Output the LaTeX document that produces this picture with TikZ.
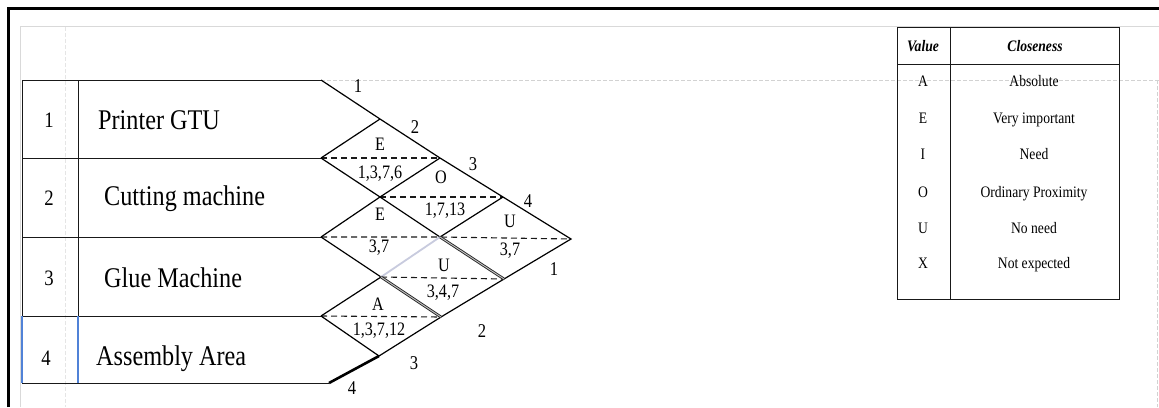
\documentclass[tikz,border=0pt]{standalone}
\usepackage{fontspec}
\setmainfont[FakeStretch=0.85]{Liberation Serif}
\newcommand\myfs[1]{\fontsize{#1}{#1}\selectfont}
\begin{document}
\begin{tikzpicture}[x=1pt,y=-1pt,
  tline/.style={draw=black!90, line width=1pt},
  dline/.style={draw=black, line width=1.2pt},
  dashln/.style={draw=black!90, line width=1.1pt, dash pattern=on 6pt off 4pt},
  dblln/.style={draw=black!85, line width=0.9pt, double=gray!45, double distance=0.9pt},
  faint/.style={draw=gray!35, line width=0.6pt, dash pattern=on 4pt off 2pt},
  rownum/.style={anchor=base, inner sep=0pt, font=\myfs{22}},
  rowname/.style={anchor=base west, inner sep=0pt, font=\myfs{28.5}},
  dlab/.style={anchor=base, inner sep=0pt, font=\myfs{19}},
  olab/.style={anchor=base, inner sep=0pt, font=\myfs{19.5}},
  leg/.style={anchor=base, inner sep=0pt, font=\myfs{16}},
  leghead/.style={anchor=base, inner sep=0pt, font=\myfs{16}\bfseries\itshape}]
\useasboundingbox (0,0) rectangle (1159,407);
\fill[white] (0,0) rectangle (1159,407);
% frame and page
\coordinate (fa) at (8.5,407); \coordinate (fb) at (8.5,8.5); \coordinate (fc) at (1159,8.5);
\draw[black, line width=3pt] (fa) -- (fb) -- (fc);
\coordinate (pa) at (20.5,407); \coordinate (pb) at (20.5,26.5); \coordinate (pc) at (1159,26.5);
\draw[gray!30, line width=1.2pt] (pa) -- (pb) -- (pc);
\coordinate (ga) at (65,27); \coordinate (gb) at (65,407);
\draw[faint, draw=gray!20] (ga) -- (gb);
\coordinate (gc) at (1159,80); \coordinate (gd) at (1157.5,80); \coordinate (ge) at (1157.5,407);
\coordinate (P1) at (321,80);
\draw[faint] (P1) -- (gc);
\draw[faint] (gd) -- (ge);
% grid points
\coordinate (L12) at (321,158);
\coordinate (L23) at (321,237);
\coordinate (L34) at (321,316);
\coordinate (T1) at (380,119);
\coordinate (R12) at (440,158);
\coordinate (B12) at (380,197);
\coordinate (T4) at (503,197);
\coordinate (B13) at (440,237);
\coordinate (M) at (381,277);
\coordinate (R14) at (571,239);
\coordinate (B14) at (504,279);
\coordinate (B24) at (441,317);
\coordinate (B34) at (379,356);
\coordinate (E4) at (329,383);
% left table
\coordinate (a0) at (22,80);  \coordinate (a1) at (22,158); \coordinate (a2) at (22,237);
\coordinate (a3) at (22,316); \coordinate (a4) at (22,383);
\coordinate (c0) at (78,80);  \coordinate (c3) at (78,316); \coordinate (c4) at (78,383);
\draw[tline] (a0) -- (P1);
\draw[tline] (a1) -- (L12);
\draw[tline] (a2) -- (L23);
\draw[tline] (a3) -- (L34);
\draw[tline] (a4) -- (E4);
\draw[tline] (a0) -- (a3);
\draw[tline] (c0) -- (c3);
\draw[line width=1.3pt, draw={rgb,255:red,80;green,130;blue,215}] (a3) -- (a4);
\draw[line width=1.3pt, draw={rgb,255:red,80;green,130;blue,215}] (c3) -- (c4);
\node[rownum] (n1) at (49,127) {1};
\node[rownum] (n2) at (49,205) {2};
\node[rownum] (n3) at (49,285) {3};
\node[rownum] (n4) at (46,365) {4};
\node[rowname] (m1) at (98,129.5) {Printer GTU};
\node[rowname] (m2) at (104,205) {Cutting machine};
\node[rowname] (m3) at (104,287) {Glue Machine};
\node[rowname] (m4) at (96,365) {Assembly Area};
% dashed middles
\draw[dashln] (L12) -- (R12);
\draw[dashln] (B12) -- (T4);
\draw[dashln] (L23) -- (B13) -- (R14);
\draw[dashln] (M) -- (B14);
\draw[dashln] (L34) -- (B24);
% solid edges
\draw[dline] (P1) -- (T1) -- (R12) -- (T4);
\draw[dline] (L12) -- (B12) -- (B13);
\draw[dline] (L23) -- (M);
\draw[dline] (L34) -- (B34);
\draw[dline] (L12) -- (T1);
\draw[dline] (L23) -- (B12) -- (R12);
\draw[dline] (L34) -- (M);
\draw[draw={rgb,255:red,200;green,203;blue,222}, line width=1.8pt] (M) -- (B13);
\draw[dline] (B13) -- (T4);
\draw[dline] (B34) -- (B24) -- (B14) -- (R14) -- (T4);
\draw[dblln] (B13) -- (B14);
\draw[dblln] (M) -- (B24);
\draw[black, line width=2.6pt] (E4) -- (B34);
% diamond labels
\node[dlab] (d1) at (380,150) {E};
\node[dlab] (d1v) at (380,178) {1,3,7,6};
\node[dlab] (d2) at (441,183) {O};
\node[dlab] (d2v) at (445,215) {1,7,13};
\node[dlab] (d3) at (380,220) {E};
\node[dlab] (d3v) at (379,252) {3,7};
\node[dlab] (d4) at (510,227) {U};
\node[dlab] (d4v) at (510,255) {3,7};
\node[dlab] (d5) at (444,271) {U};
\node[dlab] (d5v) at (443,297) {3,4,7};
\node[dlab] (d6) at (378,310) {A};
\node[dlab] (d6v) at (379,335) {1,3,7,12};
% outer labels
\node[olab] (o1) at (358,92) {1};
\node[olab] (o2) at (415,133) {2};
\node[olab] (o3) at (473,170) {3};
\node[olab] (o4) at (528,207) {4};
\node[olab] (o5) at (554,275) {1};
\node[olab] (o6) at (482,337) {2};
\node[olab] (o7) at (414,369) {3};
\node[olab] (o8) at (352,394) {4};
% legend
\coordinate (g0) at (897,27); \coordinate (g1) at (1119,299);
\coordinate (h0) at (897,64); \coordinate (h1) at (1119,64);
\coordinate (v0) at (950,27); \coordinate (v1) at (950,299);
\draw[tline] (g0) rectangle (g1);
\draw[tline] (h0) -- (h1);
\draw[tline] (v0) -- (v1);
\node[leghead] (lh1) at (923,51) {Value};
\node[leghead] (lh2) at (1035,51) {Closeness};
\node[leg] (la) at (923,86) {A};  \node[leg] (lat) at (1034,86) {Absolute};
\node[leg] (le) at (923,123) {E}; \node[leg] (let) at (1034,123) {Very important};
\node[leg] (li) at (923,159) {I}; \node[leg] (lit) at (1034,159) {Need};
\node[leg] (lo) at (923,197) {O}; \node[leg] (lot) at (1034,197) {Ordinary Proximity};
\node[leg] (lu) at (923,233) {U}; \node[leg] (lut) at (1034,233) {No need};
\node[leg] (lx) at (923,268) {X}; \node[leg] (lxt) at (1034,268) {Not expected};
\end{tikzpicture}
\end{document}
